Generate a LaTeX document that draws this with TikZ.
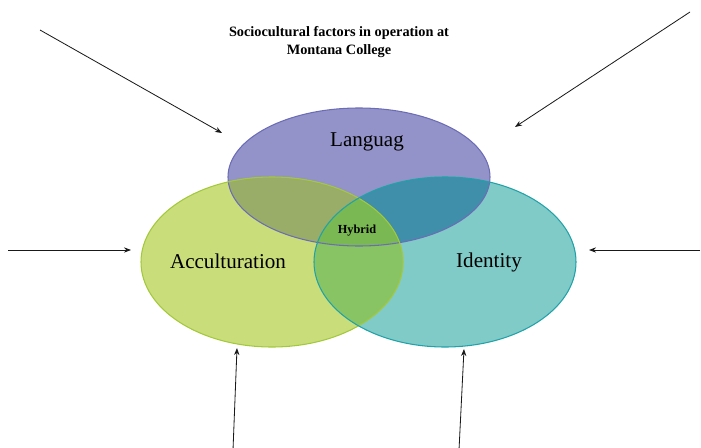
\documentclass[tikz,border=0pt]{standalone}
\usepackage{fontspec}
\setmainfont{Liberation Serif}
\usetikzlibrary{arrows.meta}

\definecolor{langfill}{HTML}{9393C9}
\definecolor{langline}{HTML}{6C6CB6}
\definecolor{accfill}{HTML}{C9DD7B}
\definecolor{accline}{HTML}{A3C93A}
\definecolor{idfill}{HTML}{80CAC8}
\definecolor{idline}{HTML}{1FA2A8}
\definecolor{lafill}{HTML}{99AC68}
\definecolor{lifill}{HTML}{3F8FAB}
\definecolor{aifill}{HTML}{89C464}
\definecolor{hybfill}{HTML}{79B852}

\tikzset{
  pointer/.style={draw=black!90,line width=0.7pt,-{Stealth[length=6pt,width=4.5pt]}},
  setname/.style={font=\fontsize{18}{20}\selectfont}
}

\begin{document}
\begin{tikzpicture}[x=0.03cm,y=-0.03cm]

\useasboundingbox (0,0) rectangle (701,447);

% Title
\node (title) at (339,42) [align=center,font=\fontsize{12.2}{16}\selectfont\bfseries]
  {Sociocultural factors in operation at\\Montana College};

% Three sets
\fill[langfill] (359,177) ellipse [x radius=131,y radius=69];
\fill[accfill] (272,262) ellipse [x radius=131,y radius=85];
\fill[idfill] (445,262) ellipse [x radius=131,y radius=85];

% Overlaps with Languag
\begin{scope}
  \clip (359,177) ellipse [x radius=131,y radius=69];
  \fill[lafill] (272,262) ellipse [x radius=131,y radius=85];
  \fill[lifill] (445,262) ellipse [x radius=131,y radius=85];
\end{scope}

% Overlap of Acculturation and Identity, and the middle
\begin{scope}
  \clip (272,262) ellipse [x radius=131,y radius=85];
  \fill[aifill] (445,262) ellipse [x radius=131,y radius=85];
  \clip (359,177) ellipse [x radius=131,y radius=69];
  \fill[hybfill] (445,262) ellipse [x radius=131,y radius=85];
\end{scope}

% Outlines
\draw[langline,line width=0.9pt] (359,177) ellipse [x radius=131,y radius=69];
\draw[accline,line width=0.9pt] (272,262) ellipse [x radius=131,y radius=85];
\draw[idline,line width=0.9pt] (445,262) ellipse [x radius=131,y radius=85];

% Labels
\node[setname] (lang) at (367,142) {Languag};
\node[setname] (acc) at (228,261) {Acculturation};
\node[setname] (ident) at (489,262) {Identity};
\node[font=\fontsize{10.5}{12}\selectfont\bfseries] (hybrid) at (357,231) {Hybrid};

% Outside influences
\coordinate (tlS) at (40,30);   \coordinate (tlE) at (222,133);
\coordinate (trS) at (690,12);  \coordinate (trE) at (515,127);
\coordinate (lS) at (8,250);    \coordinate (lE) at (131,250);
\coordinate (rS) at (700,250);  \coordinate (rE) at (589,250);
\coordinate (blS) at (233,450); \coordinate (blE) at (237,348);
\coordinate (brS) at (459,450); \coordinate (brE) at (464,349);

\draw[pointer] (tlS) -- (tlE);
\draw[pointer] (trS) -- (trE);
\draw[pointer] (lS) -- (lE);
\draw[pointer] (rS) -- (rE);
\draw[pointer] (blS) -- (blE);
\draw[pointer] (brS) -- (brE);

\end{tikzpicture}
\end{document}
